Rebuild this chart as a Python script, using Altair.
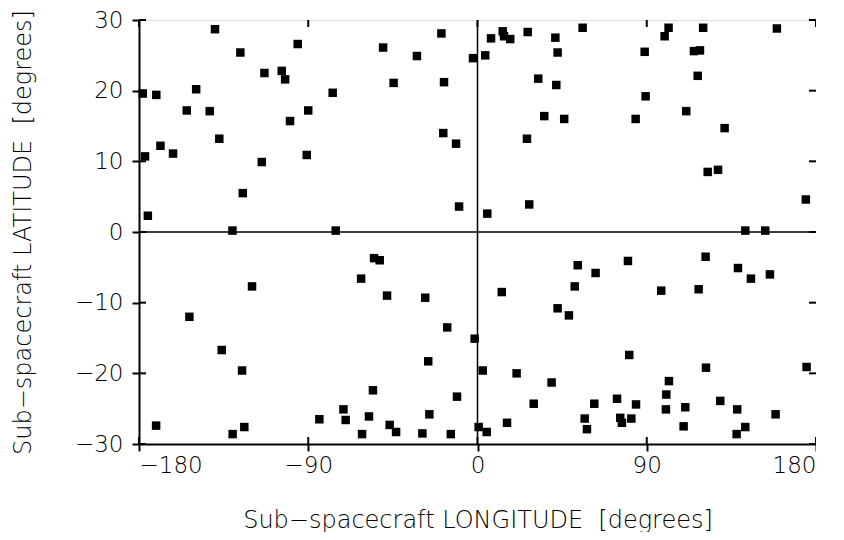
import altair as alt
import pandas as pd

lon = [
    -139.6, -95.6, -126.1, -113.3, -104.1, -102.3, -149.6, -178.0, -170.8, -154.6, -142.4, -90.0,
    -99.7, -137.3, -168.6, -161.9, -176.8, -90.8, -114.7, -124.8, -175.3, -130.3,
    -19.2, -50.2, -32.2, -2.4, -44.6, -17.8, -77.0, -18.2, -11.4, -9.8, -75.4,
    4.1, 7.2, 13.4, 14.1, 17.4, 26.7, 41.4, 55.9, 42.6, 88.9, 32.3, 41.9, 89.4, 35.5, 46.1, 84.1,
    26.3, 27.5, 5.2,
    101.6, 99.5, 120.0, 159.2, 115.1, 118.3, 117.1, 111.0, 131.4, 122.4, 127.9, 174.6, 142.4, 153.0,
    -119.9, -153.2, -136.0, -125.2, -170.9, -124.0, -130.2,
    -55.0, -52.0, -61.9, -48.1, -27.8, -16.1, -1.5, -26.2, -55.6, -10.9, -71.3, -84.1, -70.1, -57.7,
    -25.6, -46.7, -43.3, -61.4, -29.3, -14.2, 0.6,
    53.3, 80.0, 62.8, 51.7, 12.9, 42.6, 48.6, 80.7, 2.8, 20.8, 39.4, 29.9, 62.1, 74.2, 84.3, 57.0,
    58.2, 75.9, 76.8, 81.8, 15.7, 4.9,
    121.3, 138.5, 145.4, 155.5, 97.7, 117.6, 121.5, 175.0, 101.8, 100.4, 100.2, 110.5, 129.1, 138.1,
    158.5, 109.6, 142.4, 137.8,
]
lat = [
    28.7, 26.6, 25.4, 22.5, 22.8, 21.6, 20.2, 19.6, 19.4, 17.2, 17.1, 17.2,
    15.7, 13.2, 12.2, 11.1, 10.7, 10.9, 9.9, 5.5, 2.3, 0.2,
    28.1, 26.1, 24.9, 24.6, 21.1, 21.2, 19.7, 14.0, 12.5, 3.6, 0.2,
    25.0, 27.4, 28.4, 27.7, 27.3, 28.3, 27.5, 28.9, 25.4, 25.5, 21.7, 20.8, 19.2, 16.4, 16.0, 16.0,
    13.2, 3.9, 2.6,
    28.9, 27.7, 28.9, 28.8, 25.6, 25.7, 22.1, 17.1, 14.7, 8.5, 8.8, 4.6, 0.2, 0.2,
    -7.7, -12.0, -16.7, -19.6, -27.4, -27.6, -28.6,
    -3.7, -4.0, -6.6, -9.0, -9.3, -13.5, -15.1, -18.3, -22.4, -23.3, -25.1, -26.5, -26.6, -26.1,
    -25.8, -27.3, -28.3, -28.6, -28.5, -28.6, -27.6,
    -4.7, -4.1, -5.8, -7.7, -8.5, -10.8, -11.8, -17.4, -19.6, -20.0, -21.3, -24.3, -24.3, -23.6, -24.4, -26.4,
    -27.9, -26.3, -27.0, -26.4, -27.0, -28.3,
    -3.5, -5.1, -6.6, -6.0, -8.3, -8.1, -19.2, -19.1, -21.1, -23.0, -25.1, -24.8, -23.9, -25.1,
    -25.8, -27.5, -27.6, -28.6,
]
x_ticks = [-180, -90, 0, 90, 180]
y_ticks = [-30, -20, -10, 0, 10, 20, 30]
zero_line = [0]

W, H = 677, 424
T = 7  # tick half length
FONT = "DejaVu Sans"
FS = 23
TFS = 24
LW = 2      # frame / tick width
ZW = 1.5    # zero-line width

df = pd.DataFrame({"lon": lon, "lat": lat})
xs = alt.Scale(domain=[-180, 180], nice=False, zero=False)
ys = alt.Scale(domain=[-30, 30], nice=False, zero=False)

points = alt.Chart(df).mark_square(size=72, color="black", opacity=1).encode(
    x=alt.X("lon:Q", scale=xs, axis=alt.Axis(
        values=x_ticks, ticks=True, tickSize=T, tickWidth=LW, tickColor="black",
        domain=True, domainColor="black", domainWidth=LW, grid=False,
        labelFontSize=FS, labelPadding=3, labelColor="black", labelFont=FONT,
        labelFontWeight=200,
        title="Sub\u2212spacecraft LONGITUDE\u00a0\u00a0[degrees]", titleFontSize=TFS,
        titleFont=FONT, titleFontWeight=200, titleColor="black", titlePadding=31)),
    y=alt.Y("lat:Q", scale=ys, axis=alt.Axis(
        values=y_ticks, ticks=True, tickSize=T, tickWidth=LW, tickColor="black",
        domain=True, domainColor="black", domainWidth=LW, grid=False,
        labelFontSize=FS, labelPadding=9, labelColor="black", labelFont=FONT,
        labelFontWeight=200,
        title="Sub\u2212spacecraft LATITUDE\u00a0\u00a0[degrees]", titleFontSize=TFS,
        titleFont=FONT, titleFontWeight=200, titleColor="black", titlePadding=39)),
)

zdf = pd.DataFrame({"z": zero_line})
vzero = alt.Chart(zdf).mark_rule(color="black", strokeWidth=ZW).encode(x=alt.X("z:Q", scale=xs))
hzero = alt.Chart(zdf).mark_rule(color="black", strokeWidth=ZW).encode(y=alt.Y("z:Q", scale=ys))

xt = pd.DataFrame({"t": x_ticks})
yt = pd.DataFrame({"t": y_ticks})
# inner halves of the crossing ticks on all four sides
xtick_b = alt.Chart(xt).mark_rule(color="black", strokeWidth=LW).encode(
    x=alt.X("t:Q", scale=xs), y=alt.value(H - T), y2=alt.value(H))
xtick_t = alt.Chart(xt).mark_rule(color="black", strokeWidth=LW).encode(
    x=alt.X("t:Q", scale=xs), y=alt.value(0), y2=alt.value(T))
ytick_l = alt.Chart(yt).mark_rule(color="black", strokeWidth=LW).encode(
    y=alt.Y("t:Q", scale=ys), x=alt.value(0), x2=alt.value(T))
ytick_r = alt.Chart(yt).mark_rule(color="black", strokeWidth=LW).encode(
    y=alt.Y("t:Q", scale=ys), x=alt.value(W - T), x2=alt.value(W))

chart = alt.layer(
    vzero, hzero, xtick_b, xtick_t, ytick_l, ytick_r, points,
).properties(
    width=W, height=H,
    padding={"left": 131, "top": 12, "right": 0, "bottom": 88},
    autosize=alt.AutoSizeParams(type="none"),
).configure_view(stroke="#000000", strokeWidth=LW, strokeOpacity=1).configure(background="white")

chart.save("out.html", embed_options={"renderer": "svg", "actions": False})
